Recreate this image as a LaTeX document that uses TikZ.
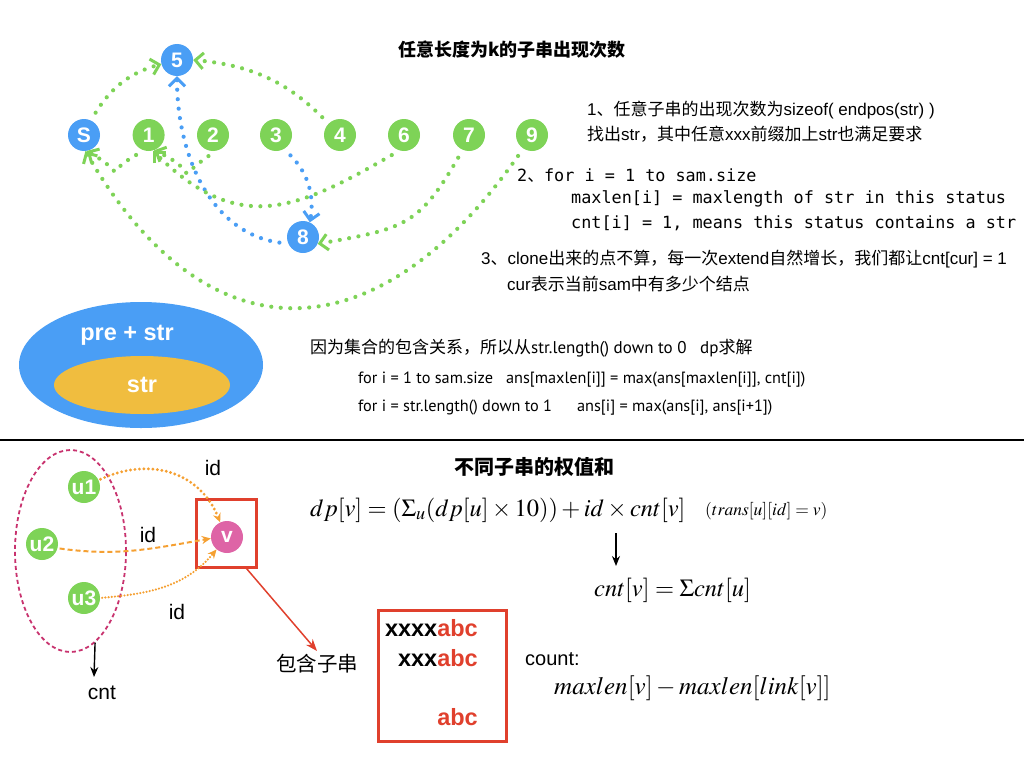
\documentclass[tikz,border=0pt]{standalone}
\usepackage{mathptmx}
\usepackage[no-math]{fontspec}
\setmainfont{Liberation Sans}
\setmonofont{DejaVu Sans Mono}
\newfontfamily\cjk{Noto Sans CJK SC}
\newfontfamily\gill{PT Sans}
\usetikzlibrary{arrows.meta, positioning, shapes.geometric}

\newcommand\zh[1]{{\cjk #1}}
\newcommand\fsz[1]{\fontsize{#1}{#1}\selectfont}

\definecolor{samgreen}{HTML}{7ED357}
\definecolor{samblue}{HTML}{4A9EF5}
\definecolor{samyellow}{HTML}{F0BD3F}
\definecolor{sampink}{HTML}{DE64A6}
\definecolor{samred}{HTML}{E0402D}
\definecolor{samorange}{HTML}{F5A032}
\definecolor{sammagenta}{HTML}{C8326E}

\tikzset{
    state/.style={circle, minimum size=32pt, inner sep=0pt, text=white, font=\fsz{21}\bfseries},
    gtip/.tip={Straight Barb[length=8pt, width=16pt, line width=3pt]},
    gdot/.style={samgreen, line width=4.2pt, line cap=round, dash pattern=on 0pt off 9.5pt, -gtip, shorten <=9pt},
    bdot/.style={samblue, line width=4.2pt, line cap=round, dash pattern=on 0pt off 9.5pt, -gtip, shorten <=9pt},
    otip/.tip={Stealth[length=9pt, width=8pt]},
    txt/.style={anchor=west, inner sep=0pt, font=\fsz{17}},
    gilltxt/.style={anchor=west, inner sep=0pt, font=\fsz{16.3}\gill},
    code/.style={anchor=west, inner sep=0pt, font=\fsz{16.8}\ttfamily},
    mathtxt/.style={anchor=west, inner sep=0pt, font=\fsz{24.5}},
}

\begin{document}
\begin{tikzpicture}[x=1pt, y=-1pt]
    \useasboundingbox (0,0) rectangle (1024,768);

    % ==========================================
    % TOP: SAM states and suffix links
    % ==========================================
    \node[font=\fsz{18}\bfseries\cjk] (title1) at (512,50) {任意长度为k的子串出现次数};

    \node[state, fill=samblue] (nS) at (84,135) {S};
    \node[state, fill=samblue] (n5) at (177,60) {5};
    \node[state, fill=samblue] (n8) at (303,237) {8};
    \foreach \n/\x in {1/148.6, 2/213, 3/276, 4/340, 6/404, 7/469, 9/532}
        \node[state, fill=samgreen] (n\n) at (\x,135) {\n};

    % suffix links
    \draw[gdot] (nS.65) to[out=58, in=195] (n5.195);
    \draw[gdot] (n4.135) to[out=135, in=-5] (n5.0);
    \draw[bdot] (n8.205) to[out=172, in=-90] (n5.-90);
    \draw[bdot] (n3.-60) to[out=-45, in=80] (n8.65);
    \draw[gdot] (n2.-80) to[out=-145, in=-25, looseness=2.4] (n1.-70);
    \draw[gdot] (n1.-107) to[out=-150, in=-30, looseness=2.4] (nS.-80);
    \draw[gdot] (n6.-106) to[out=-150, in=-45, looseness=1.25] (n1.-75);
    \draw[gdot] (n7.-113) to[out=-120, in=10, looseness=1.3] (n8.-25);
    \draw[gdot] (n9.-123) to[out=-125, in=-60, looseness=1.45] (nS.-85);

    % notes
    \node[txt] (note1a) at (587,110) {1\zh{、任意子串的出现次数为}sizeof( endpos(str) )};
    \node[txt] (note1b) at (587,134) {\zh{找出}str\zh{，其中任意}xxx\zh{前缀加上}str\zh{也满足要求}};

    \node[code] (note2a) at (517,176) {2\zh{、}for i = 1 to sam.size};
    \node[code] (note2b) at (571,199) {maxlen[i] = maxlength of str in this status};
    \node[code] (note2c) at (571,223) {cnt[i] = 1, means this status contains a str};

    \node[txt] (note3a) at (481,259) {3\zh{、}clone\zh{出来的点不算，每一次}extend\zh{自然增长，我们都让}cnt[cur] = 1};
    \node[txt] (note3b) at (507,284) {cur\zh{表示当前}sam\zh{中有多少个结点}};

    % set inclusion
    \fill[samblue] (141,365) ellipse [x radius=122, y radius=63];
    \fill[samyellow] (142,385) ellipse [x radius=88, y radius=29];
    \node[text=white, font=\fsz{23.5}\bfseries] (prestr) at (127,335) {pre + str};
    \node[text=white, font=\fsz{23.5}\bfseries] (str) at (142,385) {str};

    \node[gilltxt, font=\fsz{17}\gill] (dp1) at (310,348) {\zh{因为集合的包含关系，所以从}str.length() down to 0 \ \ dp\zh{求解}};
    \node[gilltxt] (dp2) at (358,380) {for i = 1 to sam.size \ \ ans[maxlen[i]] = max(ans[maxlen[i]], cnt[i])};
    \node[gilltxt] (dp3) at (358,408) {for i = str.length() down to 1 \quad\ ans[i] = max(ans[i], ans[i+1])};

    % divider
    \draw[line width=2pt] (0,440) -- (1024,440);

    % ==========================================
    % BOTTOM: sum of weights of distinct substrings
    % ==========================================
    \node[font=\fsz{20}\bfseries\cjk] (title2) at (534.5,467) {不同子串的权值和};

    \node[draw=sammagenta, line width=1.8pt, dash pattern=on 4pt off 3pt, ellipse,
          minimum width=111pt, minimum height=202pt, inner sep=0pt] (grp) at (70.5,551) {};
    \node[state, fill=samgreen] (u1) at (84,487) {u1};
    \node[state, fill=samgreen] (u2) at (42,544) {u2};
    \node[state, fill=samgreen] (u3) at (84,598) {u3};

    \node[state, fill=sampink] (v) at (227,537) {v};
    \node[draw=samred, line width=3pt, minimum width=60pt, minimum height=68pt] (vbox) at (226,533) {};

    % transitions into v
    \draw[samorange, line width=3.2pt, line cap=round, dash pattern=on 0pt off 4.5pt, -otip, shorten <=2pt]
        (u1.25) to[out=25, in=112, looseness=1.1] (v.115);
    \draw[samorange, line width=2pt, dash pattern=on 5pt off 3pt, -otip, shorten <=2pt]
        (u2.-15) to[out=-8, in=190] (v.185);
    \draw[samorange, line width=2.4pt, line cap=round, dash pattern=on 0pt off 3.2pt, -otip, shorten <=2pt]
        (u3.0) to[out=5, in=230] (v.230);

    \node[font=\fsz{21}] (id1) at (213,468) {id};
    \node[font=\fsz{21}] (id2) at (148,535) {id};
    \node[font=\fsz{21}] (id3) at (177,612) {id};

    \node[font=\fsz{21}] (cnt) at (102,693) {cnt};
    \coordinate (cntend) at (94,677);
    \draw[line width=1.4pt, -{Stealth[length=10pt, width=8pt]}] (grp.-75) -- (cntend);

    \node[font=\fsz{20.5}\cjk] (sub) at (317,664) {包含子串};
    \draw[samred, line width=1.5pt, -{Stealth[length=12pt, width=9pt]}] (vbox.-60) -- (sub.north);

    \node[draw=samred, line width=3pt, minimum width=128pt, minimum height=131pt] (subs) at (442.5,675.5) {};
    \node[anchor=east, inner sep=0pt, font=\fsz{23.5}\bfseries] (s1) at (478,628) {xxxx\textcolor{samred}{abc}};
    \node[anchor=east, inner sep=0pt, font=\fsz{23.5}\bfseries] (s2) at (478,658) {xxx\textcolor{samred}{abc}};
    \node[anchor=east, inner sep=0pt, font=\fsz{23.5}\bfseries] (s3) at (478,717) {\textcolor{samred}{abc}};

    % formulas
    \node[mathtxt] (dpf) at (310,510) {$dp[v] = (\Sigma_u(dp[u]\times 10)) + id\times cnt[v]$};
    \node[mathtxt, font=\fsz{17.5}] (transf) at (705,511) {$(trans[u][id] = v)$};
    \coordinate (arrtop) at (616,533);
    \coordinate (arrbot) at (616,566);
    \draw[line width=1.4pt, -{Stealth[length=10pt, width=8pt]}] (arrtop) -- (arrbot);
    \node[mathtxt] (cntf) at (594,590) {$cnt[v] = \Sigma cnt[u]$};

    \node[anchor=west, inner sep=0pt, font=\fsz{20}] (count) at (525,659) {count:};
    \node[mathtxt, font=\fsz{25}] (lenf) at (554,688) {$maxlen[v] - maxlen[link[v]]$};

\end{tikzpicture}
\end{document}
